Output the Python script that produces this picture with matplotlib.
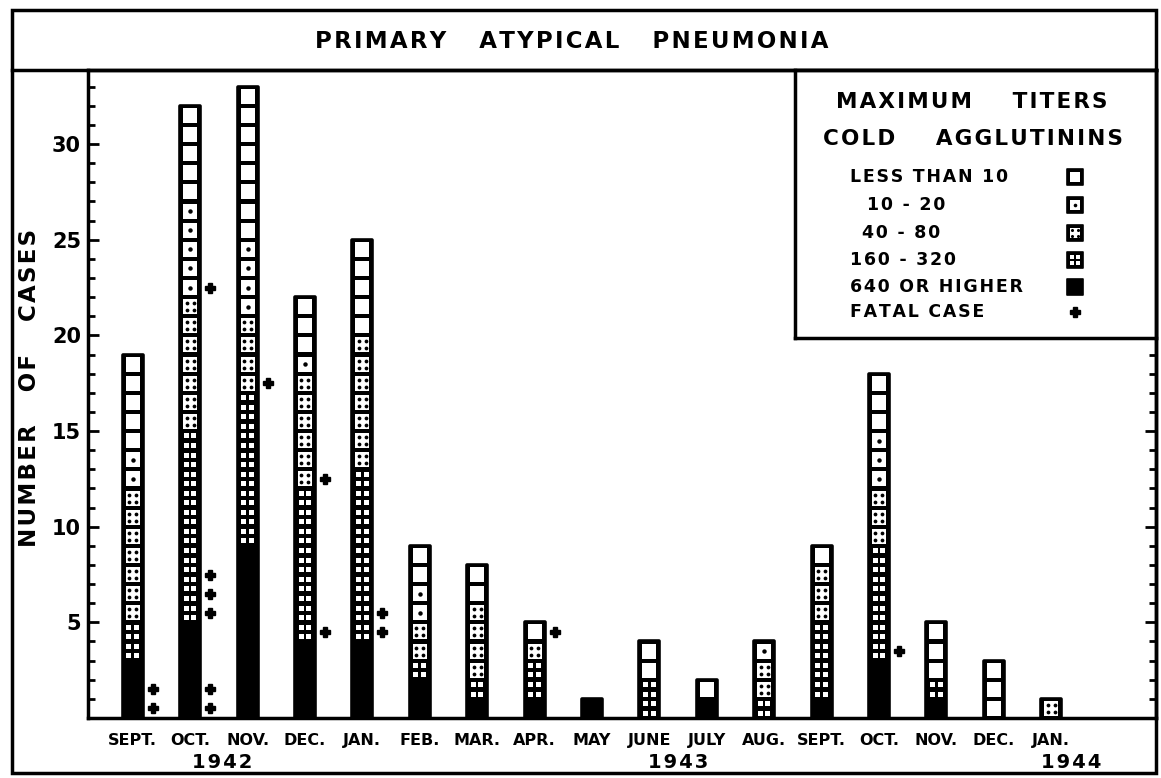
import numpy as np
import matplotlib
matplotlib.use("Agg")
import matplotlib.pyplot as plt
import matplotlib.transforms as mtransforms
from matplotlib.patches import Rectangle
from matplotlib.lines import Line2D

# months, Sept 1942 .. Jan 1944
months = ["SEPT.", "OCT.", "NOV.", "DEC.", "JAN.", "FEB.", "MAR.", "APR.", "MAY",
          "JUNE", "JULY", "AUG.", "SEPT.", "OCT.", "NOV.", "DEC.", "JAN."]
years = ["1942", "1943", "1944"]
year_pos = [1.55, 9.5, 16.35]

# cases per maximum cold agglutinin titre, stacked bottom -> top
high_640 = [3, 5, 9, 4, 4, 2, 1, 1, 1, 0, 1, 0, 1, 3, 1, 0, 0]
t160_320 = [2, 10, 8, 8, 9, 1, 1, 2, 0, 2, 0, 1, 4, 6, 1, 0, 0]
t40_80 = [7, 7, 4, 6, 7, 2, 4, 1, 0, 0, 0, 2, 3, 3, 0, 0, 1]
t10_20 = [2, 5, 4, 1, 0, 2, 0, 0, 0, 0, 0, 1, 0, 3, 0, 0, 0]
below_10 = [5, 5, 8, 3, 5, 2, 2, 1, 0, 2, 1, 0, 1, 3, 3, 3, 0]

# fatal cases: month index and level on the bar
fatal_month = [0, 0, 1, 1, 1, 1, 1, 1, 2, 3, 3, 4, 4, 7, 13]
fatal_level = [0.5, 1.5, 0.5, 1.5, 5.5, 6.5, 7.5, 22.5, 17.5, 4.5, 12.5, 4.5, 5.5, 4.5, 3.5]

legend_labels = ["LESS THAN 10", "10 - 20", "40 - 80", "160 - 320", "640 OR HIGHER", "FATAL CASE"]

plt.rcParams['font.family'] = 'DejaVu Sans'
plt.rcParams['font.weight'] = 'bold'

W, H = 1161, 778
fig = plt.figure(figsize=(W / 100, H / 100), dpi=100)


def fx(px):
    return px / W


def fy(py):
    return 1 - py / H


def spaced(s):
    # lettering-guide look: a hair space between letters
    return "\u200a".join(s)


def draw_cell(a, xc, yc, kind, sx, sy, w=14, h=15, d=3.5, q=(3.8, 4.7), qs=5, dot=3.2):
    # one unit square of a bar; sizes in pixels, sx/sy = data units per pixel
    if kind in ("lt10", "t10", "t40"):
        a.add_patch(Rectangle((xc - w / 2 * sx, yc - h / 2 * sy), w * sx, h * sy,
                              fc="white", ec="none", zorder=3))
    if kind == "t10":
        a.plot([xc], [yc], "o", ms=dot, mec="none", color="black", zorder=4)
    if kind == "t40":
        xs = [xc - d * sx, xc + d * sx, xc - d * sx, xc + d * sx]
        ys = [yc - d * sy, yc - d * sy, yc + d * sy, yc + d * sy]
        a.plot(xs, ys, "o", ms=dot * 0.85, mec="none", color="black", zorder=4, ls="none")
    if kind == "t160":
        for ox in (-q[0], q[0]):
            for oy in (-q[1], q[1]):
                a.add_patch(Rectangle((xc + (ox - qs / 2) * sx, yc + (oy - qs / 2) * sy),
                                      qs * sx, qs * sy, fc="white", ec="none", zorder=3))


ax_l, ax_r, ax_t, ax_b = 88, 1156, 70, 718
ax = fig.add_axes([fx(ax_l), fy(ax_b), (ax_r - ax_l) / W, (ax_b - ax_t) / H])
ax.set_xlim(-0.78, -0.78 + (ax_r - ax_l) / 57.4)
ax.set_ylim(0, (ax_b - ax_t) / 19.13)
sx = (ax.get_xlim()[1] - ax.get_xlim()[0]) / (ax_r - ax_l)
sy = (ax.get_ylim()[1] - ax.get_ylim()[0]) / (ax_b - ax_t)

x = np.arange(len(months))
classes = [("hi", high_640), ("t160", t160_320), ("t40", t40_80), ("t10", t10_20), ("lt10", below_10)]
totals = np.sum([np.array(v) for _, v in classes], axis=0)

ax.bar(x, totals, width=0.35, color="black", edgecolor="black", linewidth=2.6,
       joinstyle="round", zorder=2)

bottom = np.zeros(len(months))
for kind, vals in classes:
    for i, n in enumerate(vals):
        for k in range(n):
            draw_cell(ax, x[i], bottom[i] + k + 0.5, kind, sx, sy)
    bottom += np.array(vals)

ax.plot(x[fatal_month] + 20 * sx, fatal_level, "P", ms=7.5, color="black", ls="none", zorder=4)

ax.set_xticks(x, months)
ax.tick_params(axis="x", length=0, labelsize=11.5, pad=11)
ax.set_yticks(range(5, 31, 5))
ax.set_yticks(range(1, 34), minor=True)
ax.tick_params(axis="y", which="major", direction="in", length=8, width=2, labelsize=15,
               pad=5, right=True)
ax.tick_params(axis="y", which="minor", direction="in", length=5, width=2, right=True)
for s in ax.spines.values():
    s.set_linewidth(2.5)

tr = mtransforms.blended_transform_factory(ax.transData, ax.transAxes)
for yr, p in zip(years, year_pos):
    ax.text(p, -0.069, spaced(yr), transform=tr, ha="center", va="center", fontsize=14)

# frame and title box
fig.add_artist(Rectangle((fx(12), fy(773)), fx(1156) - fx(12), fy(10) - fy(773),
                         transform=fig.transFigure, fill=False, lw=2.5, ec="black"))
fig.add_artist(Line2D([fx(12), fx(1156)], [fy(70), fy(70)], lw=2.5, color="black"))
fig.text(fx(572), fy(42), spaced("PRIMARY   ATYPICAL   PNEUMONIA"), ha="center", va="center",
         fontsize=16.5)
fig.text(fx(30), fy(388), spaced("NUMBER   OF   CASES"), rotation=90, ha="center", va="center",
         fontsize=16.5)

# legend box
lg_l, lg_r, lg_t, lg_b = 795, 1156, 70, 338
lax = fig.add_axes([fx(lg_l), fy(lg_b), (lg_r - lg_l) / W, (lg_b - lg_t) / H])
lax.set_xlim(0, 1)
lax.set_ylim(0, 1)
lax.set_xticks([])
lax.set_yticks([])
for s in lax.spines.values():
    s.set_linewidth(2.5)
lsx = 1 / (lg_r - lg_l)
lsy = 1 / (lg_b - lg_t)


def ly(py):
    return 1 - (py - lg_t) / (lg_b - lg_t)


lax.text((972 - lg_l) * lsx, ly(102), spaced("MAXIMUM    TITERS"), ha="center", va="center",
         fontsize=15.5)
lax.text((973 - lg_l) * lsx, ly(139), spaced("COLD    AGGLUTININS"), ha="center", va="center",
         fontsize=15.5)
item_x = [850, 867, 862, 850, 850, 850]
item_y = [177, 205, 233, 260, 287, 312]
kinds = ["lt10", "t10", "t40", "t160", "hi"]
for lab, px_, py_ in zip(legend_labels, item_x, item_y):
    lax.text((px_ - lg_l) * lsx, ly(py_), spaced(lab), ha="left", va="center", fontsize=12.5)
sym_x = (1075 - lg_l) * lsx
for kind, py_ in zip(kinds, item_y):
    lax.add_patch(Rectangle((sym_x - 8 * lsx, ly(py_) - 8 * lsy), 16 * lsx, 16 * lsy,
                            fc="black", ec="black", lw=1.2, joinstyle="round", zorder=2))
    draw_cell(lax, sym_x, ly(py_), kind, lsx, lsy, w=10, h=10, d=2.6, q=(2.9, 2.9), qs=4.5, dot=2.6)
lax.plot([sym_x], [ly(item_y[5])], "P", ms=7, color="black", zorder=4)

fig.savefig("out.png", dpi=100)
